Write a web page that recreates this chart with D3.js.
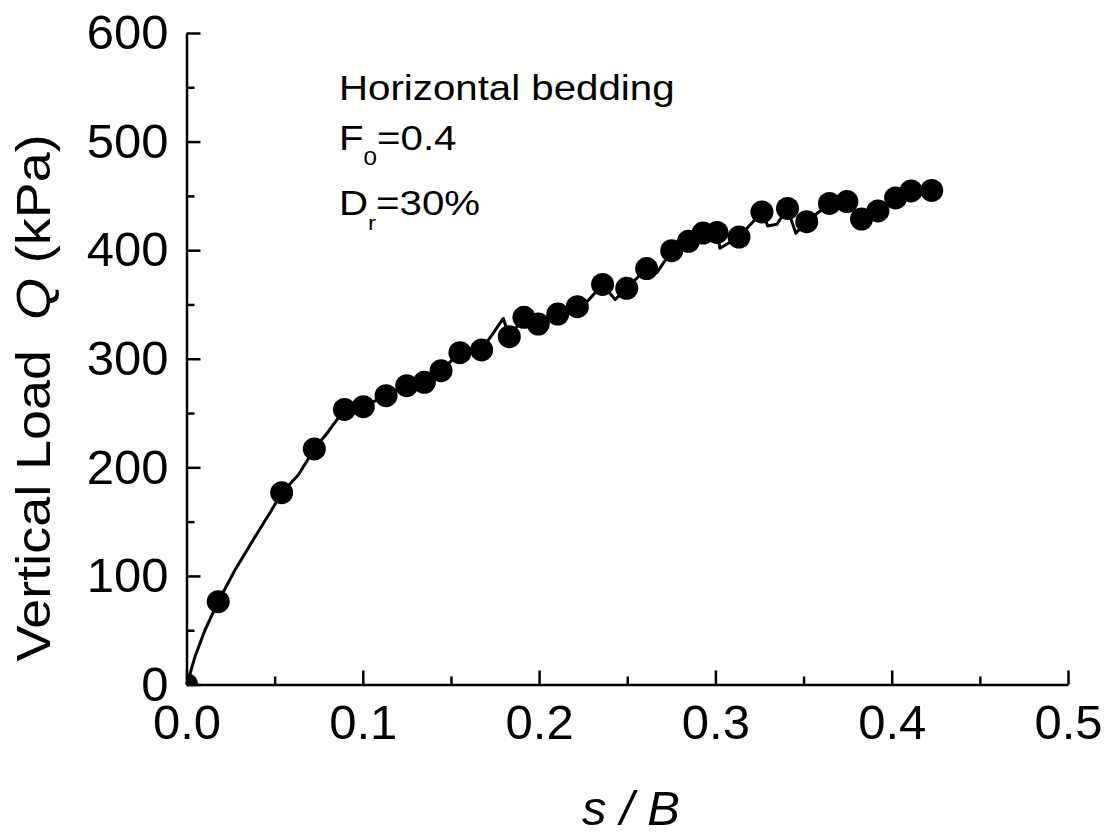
<!DOCTYPE html>
<html>
<head>
<meta charset="utf-8">
<script src="https://cdn.jsdelivr.net/npm/d3@7"></script>
<style>
  body { margin: 0; background: #fff; }
  svg { display: block; }
  text { font-family: "Liberation Sans", Arial, sans-serif; fill: #000; }
</style>
</head>
<body>
<script>
// measured curve (s/B, Q in kPa)
const lineS = [0, 0.001, 0.0048, 0.0105, 0.018, 0.0275, 0.0389, 0.0483, 0.054, 0.0634, 0.0725, 0.0804, 0.0896,
  0.1003, 0.1132, 0.1249, 0.1349, 0.1444, 0.1551, 0.1674, 0.1797, 0.1831, 0.1914, 0.1995, 0.2106, 0.2217,
  0.2277, 0.236, 0.2431, 0.2497, 0.261, 0.2667, 0.2752, 0.2847, 0.293, 0.3009, 0.3026, 0.3134, 0.3264,
  0.3297, 0.3348, 0.3409, 0.3456, 0.3518, 0.3647, 0.3746, 0.3829, 0.3922, 0.4022, 0.411, 0.4227];
const lineQ = [0, 4, 25.6, 50.2, 76.3, 105.5, 136, 160.7, 176.6, 193, 216.9, 232.8, 253.3,
  255.9, 266, 275.2, 278.3, 289, 305.6, 308.1, 337.1, 320.3, 338.2, 332, 341.2, 348,
  353.5, 368.4, 354.5, 364.9, 383.1, 379, 399.5, 408.2, 415.8, 416.3, 401.8, 412.1, 435.2,
  422.2, 423.8, 438.4, 415.5, 426.2, 443, 444.8, 428.7, 436.1, 448.1, 454.5, 455];

// marker points
const markS = [0, 0.018, 0.054, 0.0725, 0.0896, 0.1003, 0.1132, 0.1249, 0.1349, 0.1444, 0.1551, 0.1674,
  0.1831, 0.1914, 0.1995, 0.2106, 0.2217, 0.236, 0.2497, 0.261, 0.2752, 0.2847, 0.293, 0.3009, 0.3134,
  0.3264, 0.3409, 0.3518, 0.3647, 0.3746, 0.3829, 0.3922, 0.4022, 0.411, 0.4227];
const markQ = [0, 76.3, 176.6, 216.9, 253.3, 255.9, 266, 275.2, 278.3, 289, 305.6, 308.1,
  320.3, 338.2, 332, 341.2, 348, 368.4, 364.9, 383.1, 399.5, 408.2, 415.8, 416.3, 412.1,
  435.2, 438.4, 426.2, 443, 444.8, 428.7, 436.1, 448.1, 454.5, 455];

const xMajor = [0, 0.1, 0.2, 0.3, 0.4, 0.5];
const xMinor = [0.05, 0.15, 0.25, 0.35, 0.45];
const yMajor = [0, 100, 200, 300, 400, 500, 600];
const yMinor = [50, 150, 250, 350, 450, 550];

const width = 1111, height = 834;
const plotLeft = 186.5, plotRight = 1068, plotTop = 33, plotBottom = 684.5;

const x = d3.scaleLinear().domain([0, 0.5]).range([plotLeft, plotRight]);
const y = d3.scaleLinear().domain([0, 600]).range([plotBottom, plotTop]);

const svg = d3.select("body").append("svg")
  .attr("width", width)
  .attr("height", height);

svg.append("rect").attr("width", width).attr("height", height).attr("fill", "#fff");

svg.append("clipPath").attr("id", "plot")
  .append("rect")
  .attr("x", plotLeft).attr("y", plotTop)
  .attr("width", plotRight - plotLeft).attr("height", plotBottom - plotTop);

// curve
const pts = lineS.map((s, i) => [s, lineQ[i]]);
svg.append("path")
  .datum(pts)
  .attr("fill", "none")
  .attr("stroke", "#000")
  .attr("stroke-width", 3)
  .attr("stroke-linejoin", "round")
  .attr("d", d3.line().x(d => x(d[0])).y(d => y(d[1])));

// markers
svg.append("g")
  .attr("clip-path", "url(#plot)")
  .selectAll("circle")
  .data(markS.map((s, i) => [s, markQ[i]]))
  .join("circle")
  .attr("cx", d => x(d[0]))
  .attr("cy", d => y(d[1]))
  .attr("r", 11.5)
  .attr("fill", "#000");

// axes, ticks inward
const gx = svg.append("g").attr("transform", `translate(0,${plotBottom})`);
gx.call(d3.axisBottom(x).tickValues(xMajor).tickFormat(d3.format(".1f"))
  .tickSize(-14).tickSizeOuter(0).tickPadding(20));
gx.append("g").call(d3.axisBottom(x).tickValues(xMinor).tickFormat("")
  .tickSize(-8).tickSizeOuter(0))
  .select(".domain").remove();

const gy = svg.append("g").attr("transform", `translate(${plotLeft},0)`);
gy.call(d3.axisLeft(y).tickValues(yMajor)
  .tickSize(-14).tickSizeOuter(0).tickPadding(18));
gy.append("g").call(d3.axisLeft(y).tickValues(yMinor).tickFormat("")
  .tickSize(-8).tickSizeOuter(0))
  .select(".domain").remove();

svg.selectAll(".domain, .tick line").attr("stroke", "#000").attr("stroke-width", 2.5);
svg.selectAll(".tick text")
  .attr("font-family", "Liberation Sans, Arial, sans-serif")
  .attr("font-size", 49)
  .attr("fill", "#000");

// axis titles
svg.append("text")
  .attr("x", 631).attr("y", 825)
  .attr("text-anchor", "middle")
  .attr("font-size", 49)
  .attr("font-style", "italic")
  .attr("xml:space", "preserve")
  .text("s / B");

const yl = svg.append("text")
  .attr("transform", "translate(50,398) rotate(-90) scale(1.1,1)")
  .attr("text-anchor", "middle")
  .attr("font-size", 49)
  .attr("xml:space", "preserve");
yl.append("tspan").text("Vertical Load  ");
yl.append("tspan").attr("font-style", "italic").text("Q");
yl.append("tspan").text(" (kPa)");

// annotation
const note = svg.append("g").attr("transform", "translate(339,0) scale(1.15,1)");
note.append("text").attr("y", 100).attr("font-size", 35).text("Horizontal bedding");

const f0 = note.append("text").attr("y", 150).attr("font-size", 35);
f0.append("tspan").text("F");
f0.append("tspan").attr("font-size", 21).attr("dy", 15).text("0");
f0.append("tspan").attr("dy", -15).text("=0.4");

const dr = note.append("text").attr("y", 215).attr("font-size", 35);
dr.append("tspan").text("D");
dr.append("tspan").attr("font-size", 21).attr("dy", 15).text("r");
dr.append("tspan").attr("dy", -15).text("=30%");
</script>
</body>
</html>
